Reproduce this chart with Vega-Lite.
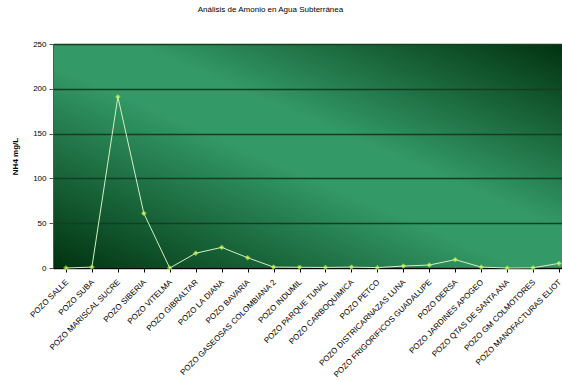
{
  "$schema": "https://vega.github.io/schema/vega-lite/v6.json",
  "autosize": "none",
  "padding": {"left": 53, "top": 44, "right": 0, "bottom": 113},
  "width": 519,
  "height": 224,
  "title": {
    "text": "Análisis de Amonio en Agua Subterránea",
    "fontSize": 8,
    "font": "Liberation Sans",
    "fontWeight": "normal",
    "color": "#000000",
    "anchor": "middle",
    "dx": -42,
    "offset": 26
  },
  "config": {
    "font": "Liberation Sans",
    "view": {
      "fill": {
        "gradient": "linear",
        "x1": 0, "y1": 1, "x2": 1, "y2": 0,
        "stops": [
          {"offset": 0, "color": "#003210"},
          {"offset": 0.45, "color": "#339966"},
          {"offset": 0.58, "color": "#339966"},
          {"offset": 1, "color": "#00300e"}
        ]
      },
      "stroke": "#8c8c8c",
      "strokeWidth": 1
    }
  },
  "data": {
    "values": [
      {"pozo": "POZO SALLE", "nh4": 0},
      {"pozo": "POZO SUBA", "nh4": 1},
      {"pozo": "POZO MARISCAL SUCRE", "nh4": 191},
      {"pozo": "POZO SIBERIA", "nh4": 61},
      {"pozo": "POZO VITELMA", "nh4": 0},
      {"pozo": "POZO GIBRALTAR", "nh4": 16.5},
      {"pozo": "POZO LA DIANA", "nh4": 23},
      {"pozo": "POZO BAVARIA", "nh4": 11.5},
      {"pozo": "POZO GASEOSAS COLOMBIANA 2", "nh4": 1},
      {"pozo": "POZO INDUMIL", "nh4": 0.8},
      {"pozo": "POZO PARQUE TUNAL", "nh4": 0.6},
      {"pozo": "POZO CARBOQUIMICA", "nh4": 1},
      {"pozo": "POZO PETCO", "nh4": 0.4},
      {"pozo": "POZO DISTRICARNAZAS LUNA", "nh4": 2.2},
      {"pozo": "POZO FRIGORIFICOS GUADALUPE", "nh4": 3.3},
      {"pozo": "POZO DERSA", "nh4": 9.3},
      {"pozo": "POZO JARDINES APOGEO", "nh4": 1},
      {"pozo": "POZO QTAS DE SANTA ANA", "nh4": 0},
      {"pozo": "POZO GM COLMOTORES", "nh4": 0.2},
      {"pozo": "POZO MANOFACTURAS ELIOT", "nh4": 5.2}
    ]
  },
  "encoding": {
    "y": {
      "field": "nh4",
      "type": "quantitative",
      "scale": {"domain": [0, 250], "nice": false},
      "axis": {
        "title": "NH4 mg/L",
        "titleFontSize": 8,
        "titleFontWeight": "bold",
        "titleColor": "#000000",
        "titleX": -34,
        "titleY": 112,
        "values": [0, 50, 100, 150, 200, 250],
        "labelFontSize": 8,
        "labelColor": "#000000",
        "labelPadding": 3,
        "tickSize": 4,
        "tickColor": "#555555",
        "domainColor": "#555555",
        "grid": true,
        "gridColor": "#143d22",
        "gridWidth": 1.5
      }
    }
  },
  "layer": [
    {
      "mark": {"type": "line", "color": "#d4efc4", "strokeWidth": 1},
      "encoding": {
        "x": {
          "field": "pozo",
          "type": "nominal",
          "sort": null,
          "scale": {"paddingInner": 0, "paddingOuter": 0},
          "axis": {
            "title": null,
            "orient": "bottom",
            "labelAngle": -45,
            "labelAlign": "right",
            "labelBaseline": "top",
            "labelFontSize": 8,
            "labelColor": "#000000",
            "labelPadding": 10,
            "labelOffset": -2,
            "ticks": false,
            "domainColor": "#000000",
            "grid": false
          }
        }
      }
    },
    {
      "mark": {"type": "point", "shape": "diamond", "filled": true, "size": 22, "color": "#e8ff99", "stroke": "#a8e818", "strokeWidth": 1},
      "encoding": {
        "x": {
          "field": "pozo",
          "type": "nominal",
          "sort": null,
          "axis": {
            "title": null,
            "orient": "bottom",
            "bandPosition": 0,
            "labels": false,
            "ticks": true,
            "tickSize": 4,
            "tickColor": "#000000",
            "domain": false,
            "grid": false
          }
        }
      }
    }
  ],
  "resolve": {"axis": {"x": "independent"}}
}
